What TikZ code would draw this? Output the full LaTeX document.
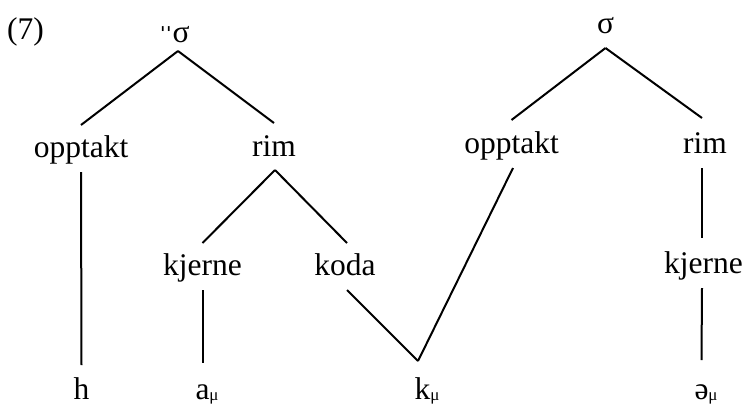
\documentclass[tikz,border=0pt]{standalone}
\usepackage{fontspec}
\setmainfont{Liberation Serif}
\newcommand{\musub}{\rlap{\raisebox{-1.5pt}{\fontsize{17}{17}\selectfont μ}}}
\begin{document}
\begin{tikzpicture}[x=1pt,y=-1pt,
  lbl/.style={anchor=base,inner sep=0pt,font=\fontsize{31.5}{36}\selectfont},
  edge/.style={line width=2pt}]
\useasboundingbox (0,0) rectangle (745,405);
% nodes
\node[lbl] (ex) at (25.5,39) {(7)};
\node[lbl] (sig1) at (181,42) {σ};
\node[lbl,anchor=base east] (stress) at ([xshift=2pt,yshift=-6pt]sig1.base west) {ˈ\kern-4.5ptˈ};
\node[lbl] (sig2) at (605.5,33) {σ};
\node[lbl] (opt1) at (81,157) {opptakt};
\node[lbl] (rim1) at (274,156) {rim};
\node[lbl] (opt2) at (511.5,153) {opptakt};
\node[lbl] (rim2) at (705,153) {rim};
\node[lbl] (kj1) at (202.5,275) {kjerne};
\node[lbl] (koda) at (345,275) {koda};
\node[lbl] (kj2) at (703.5,273) {kjerne};
\node[lbl] (h) at (81.5,399) {h};
\node[lbl] (a) at (202.5,399) {a\musub};
\node[lbl] (k) at (422.5,399) {k\musub};
\node[lbl] (schwa) at (701.5,399) {ə\musub};
% connectors
\draw[edge] ([xshift=-3pt,yshift=-9pt]sig1.base) -- ([yshift=32pt]opt1.base);
\draw[edge] ([xshift=-3pt,yshift=-9pt]sig1.base) -- ([yshift=33pt]rim1.base);
\draw[edge] ([yshift=-15pt]opt1.base) -- ([yshift=34pt]h.base);
\draw[edge] ([xshift=1pt,yshift=-14pt]rim1.base) -- ([yshift=32pt]kj1.base);
\draw[edge] ([xshift=1pt,yshift=-14pt]rim1.base) -- ([xshift=2pt,yshift=32pt]koda.base);
\draw[edge] ([yshift=-15pt]kj1.base) -- ([yshift=36pt]a.base);
\draw[edge] ([xshift=2pt,yshift=-15pt]koda.base) -- ([xshift=-4.5pt,yshift=38pt]k.base);
\draw[edge] ([xshift=1.5pt,yshift=-15pt]opt2.base) -- ([xshift=-4.5pt,yshift=38pt]k.base);
\draw[edge] ([yshift=-15pt]sig2.base) -- ([yshift=33pt]opt2.base);
\draw[edge] ([yshift=-15pt]sig2.base) -- ([xshift=-3pt,yshift=35pt]rim2.base);
\draw[edge] ([xshift=-3pt,yshift=-15pt]rim2.base) -- ([xshift=-1.5pt,yshift=35pt]kj2.base);
\draw[edge] ([xshift=-1.5pt,yshift=-15pt]kj2.base) -- ([yshift=39pt]schwa.base);
\end{tikzpicture}
\end{document}
